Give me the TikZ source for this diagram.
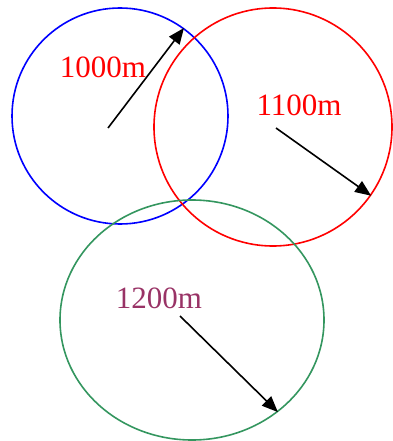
\documentclass[tikz,border=0pt]{standalone}
\usepackage{fontspec}
\setmainfont{Liberation Serif}
\usetikzlibrary{arrows.meta,positioning,shapes.geometric}
\definecolor{ringgreen}{RGB}{52,150,95}
\definecolor{labelplum}{RGB}{153,51,102}

\begin{document}
\begin{tikzpicture}[x=1pt, y=-1pt,
  ring/.style={draw, circle, inner sep=0pt, line width=1.6pt},
  dist/.style={font=\fontsize{31}{36}\selectfont, inner sep=0pt},
  arr/.style={-{Triangle[length=16pt, width=13pt]}, line width=1.6pt}]
\useasboundingbox (0,0) rectangle (392,441);
\node[ring, blue, minimum size=216pt] (blue) at (120,116) {};
\node[ring, red, minimum size=238pt] (red) at (273,127) {};
\node[ring, ellipse, ringgreen, minimum width=264pt, minimum height=240pt] (green) at (192,320) {};
\coordinate (b0) at (108,128);
\coordinate (r0) at (276,128);
\coordinate (g0) at (180,316);
\node[dist, red] (lb) at (103,67) {1000m};
\node[dist, red] (lr) at (299,105) {1100m};
\node[dist, labelplum] (lg) at (159,298) {1200m};
\draw[arr] (b0) -- (blue.54);
\draw[arr] (r0) -- (red.-35);
\draw[arr] (g0) -- (green.-47);
\end{tikzpicture}
\end{document}
